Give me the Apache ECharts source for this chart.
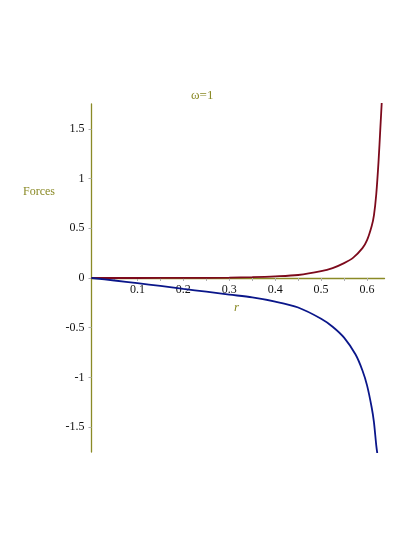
<!DOCTYPE html>
<html>
<head>
<meta charset="utf-8">
<script src="https://cdn.jsdelivr.net/npm/echarts@6/dist/echarts.min.js"></script>
<style>
html,body{margin:0;padding:0;background:#fff;}
#chart{width:415px;height:537px;}
</style>
</head>
<body>
<div id="chart"></div>
<script>
const titleText = 'ω=1';
const yName = 'Forces';
const xName = 'r';

const rBlue = [0, 0.05, 0.1, 0.15, 0.2, 0.25, 0.3, 0.35, 0.4, 0.45, 0.5, 0.525, 0.55, 0.575, 0.59, 0.6, 0.61, 0.615, 0.62, 0.624];
const forceBlue = [0, -0.025, -0.052, -0.08, -0.11, -0.138, -0.167, -0.195, -0.237, -0.297, -0.41, -0.49, -0.6, -0.77, -0.93, -1.08, -1.3, -1.45, -1.68, -1.82];

const rRed = [0, 0.1, 0.2, 0.3, 0.35, 0.4, 0.45, 0.5, 0.525, 0.55, 0.57, 0.59, 0.6, 0.61, 0.615, 0.62, 0.625, 0.629, 0.633];
const forceRed = [0, 0, 0.001, 0.004, 0.008, 0.016, 0.03, 0.068, 0.1, 0.15, 0.205, 0.3, 0.38, 0.52, 0.63, 0.84, 1.17, 1.51, 1.85];

const xTickLabels = [0.1, 0.2, 0.3, 0.4, 0.5, 0.6];
const xTicks = [0.05, 0.1, 0.15, 0.2, 0.25, 0.3, 0.35, 0.4, 0.45, 0.5, 0.55, 0.6];
const yTickLabels = [-1.5, -1, -0.5, 0, 0.5, 1, 1.5];

const olive = '#8a8a26';
const serif = '"Liberation Serif", "DejaVu Serif", serif';

const chart = echarts.init(document.getElementById('chart'), null, {renderer: 'canvas'});
const pairs = (xs, ys) => xs.map((x, i) => [x, ys[i]]);

chart.setOption({
  backgroundColor: '#fff',
  animation: false,
  grid: {left: 91.5, top: 104, width: 293, height: 348, containLabel: false},
  xAxis: {
    type: 'value', min: 0, max: 0.638, offset: -174,
    axisLine: {onZero: false, lineStyle: {color: olive, width: 1.3}},
    axisTick: {show: true, customValues: xTicks, length: 3, inside: false, lineStyle: {color: '#b0b0b0'}},
    axisLabel: {customValues: xTickLabels, margin: 6, color: '#111', fontFamily: serif, fontSize: 12,
      formatter: v => String(+(+v).toFixed(2))},
    splitLine: {show: false}
  },
  yAxis: {
    type: 'value', min: -1.75, max: 1.75,
    axisLine: {onZero: false, lineStyle: {color: olive, width: 1.3}},
    axisTick: {show: true, customValues: yTickLabels, length: 3, lineStyle: {color: '#b0b0b0'}},
    axisLabel: {customValues: yTickLabels, margin: 7, color: '#111', fontFamily: serif, fontSize: 12,
      formatter: v => String(+(+v).toFixed(2))},
    splitLine: {show: false}
  },
  graphic: [
    {type: 'text', left: 191, top: 89, style: {text: titleText, fill: olive, font: '13px ' + serif}},
    {type: 'text', left: 23, top: 186, style: {text: yName, fill: olive, font: '12px ' + serif}},
    {type: 'text', left: 234, top: 301, style: {text: xName, fill: olive, font: 'italic 13px ' + serif}}
  ],
  series: [
    {type: 'line', data: pairs(rRed, forceRed), showSymbol: false, smooth: 0.3,
      lineStyle: {color: '#7d0a1c', width: 1.8}, clip: true, z: 3},
    {type: 'line', data: pairs(rBlue, forceBlue), showSymbol: false, smooth: 0.3,
      lineStyle: {color: '#0a168a', width: 1.8}, clip: true, z: 3}
  ]
});
</script>
</body>
</html>
